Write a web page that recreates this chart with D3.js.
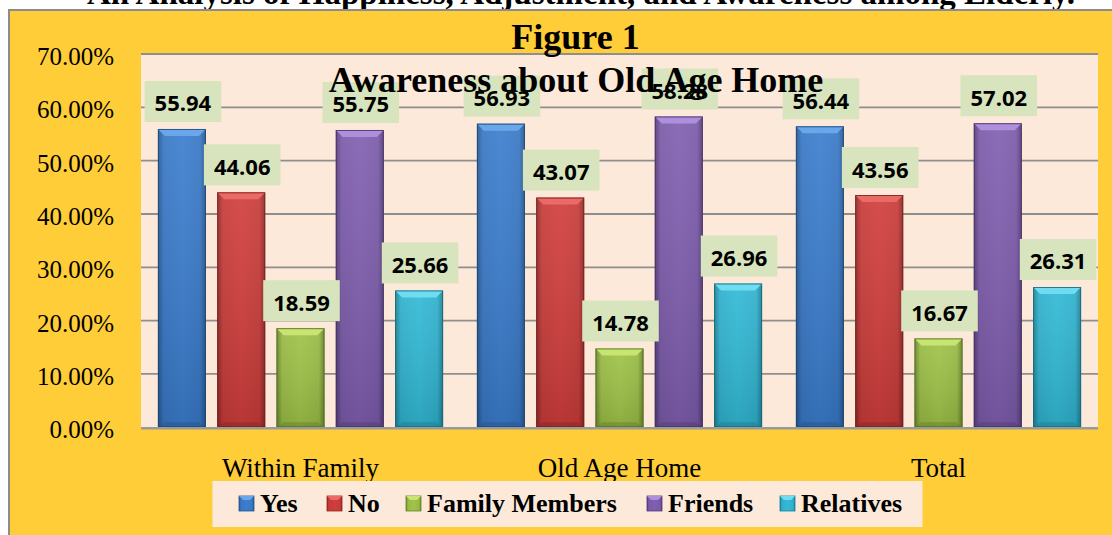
<!DOCTYPE html>
<html>
<head>
<meta charset="utf-8">
<script src="https://cdn.jsdelivr.net/npm/d3@7"></script>
<style>
body { margin: 0; background: #ffffff; }
</style>
</head>
<body>
<svg id="chart" width="1112" height="535"></svg>
<script>
var categories = ["Within Family", "Old Age Home", "Total"];
var seriesNames = ["Yes", "No", "Family Members", "Friends", "Relatives"];
var yesValues = [55.94, 56.93, 56.44];
var noValues = [44.06, 43.07, 43.56];
var familyValues = [18.59, 14.78, 16.67];
var friendsValues = [55.75, 58.28, 57.02];
var relativesValues = [25.66, 26.96, 26.31];
var yTicks = [0, 10, 20, 30, 40, 50, 60, 70];

// base, light, dark for each series
var palette = [
	["#3877c4", "#6aa6ea", "#24558f"],
	["#c63b39", "#ea6a66", "#8e2624"],
	["#97ba44", "#c8e573", "#66822a"],
	["#7a5aa8", "#ad8fdc", "#533b78"],
	["#2fb0cc", "#6fdcf2", "#1c7d93"]
];

var serif = "'Liberation Serif', 'Times New Roman', serif";
var sans = "'Open Sans', 'DejaVu Sans', sans-serif";

var plot = { left: 141, right: 1098, top: 54, bottom: 427.3 };

function buildRows() {
	var all = [yesValues, noValues, familyValues, friendsValues, relativesValues];
	var rows = [];
	categories.forEach(function(cat, ci) {
		seriesNames.forEach(function(s, si) {
			rows.push({ cat: cat, series: s, si: si, value: all[si][ci] });
		});
	});
	return rows;
}

function makeGradients(defs) {
	palette.forEach(function(p, i) {
		var g = defs.append("linearGradient")
			.attr("id", "body" + i)
			.attr("x1", 0).attr("x2", 1).attr("y1", 0).attr("y2", 0);
		g.append("stop").attr("offset", "0%").attr("stop-color", p[2]);
		g.append("stop").attr("offset", "12%").attr("stop-color", p[0]);
		g.append("stop").attr("offset", "50%").attr("stop-color", d3.color(p[0]).brighter(0.15));
		g.append("stop").attr("offset", "88%").attr("stop-color", p[0]);
		g.append("stop").attr("offset", "100%").attr("stop-color", p[2]);

		var v = defs.append("linearGradient")
			.attr("id", "shade" + i)
			.attr("x1", 0).attr("x2", 0).attr("y1", 0).attr("y2", 1);
		v.append("stop").attr("offset", "0%").attr("stop-color", "#ffffff").attr("stop-opacity", 0.08);
		v.append("stop").attr("offset", "100%").attr("stop-color", "#000000").attr("stop-opacity", 0.12);
	});
}

function drawBars(svg, x, x1, y, rows) {
	var b = 7;
	var g = svg.append("g").selectAll("g")
		.data(rows)
		.enter()
		.append("g")
		.attr("transform", function(d) { return "translate(" + (x(d.cat) + x1(d.series)) + ",0)"; });

	var w = x1.bandwidth();

	g.append("rect")
		.attr("x", 0)
		.attr("y", function(d) { return y(d.value); })
		.attr("width", w)
		.attr("height", function(d) { return y(0) - y(d.value); })
		.style("fill", function(d) { return "url(#body" + d.si + ")"; });

	g.append("rect")
		.attr("x", 0)
		.attr("y", function(d) { return y(d.value); })
		.attr("width", w)
		.attr("height", function(d) { return y(0) - y(d.value); })
		.style("fill", function(d) { return "url(#shade" + d.si + ")"; });

	// top bevel
	g.append("path")
		.attr("d", function(d) {
			var t = y(d.value);
			return "M0," + t + "L" + w + "," + t + "L" + (w - b) + "," + (t + b) + "L" + b + "," + (t + b) + "Z";
		})
		.style("fill", function(d) { return palette[d.si][1]; });

	// bottom bevel
	g.append("path")
		.attr("d", function(d) {
			var t = y(0);
			return "M0," + t + "L" + w + "," + t + "L" + (w - b) + "," + (t - 5) + "L" + b + "," + (t - 5) + "Z";
		})
		.style("fill", function(d) { return palette[d.si][2]; })
		.style("opacity", 0.5);

	g.append("rect")
		.attr("x", 0.5)
		.attr("y", function(d) { return y(d.value) + 0.5; })
		.attr("width", w - 1)
		.attr("height", function(d) { return y(0) - y(d.value) - 1; })
		.style("fill", "none")
		.style("stroke", function(d) { return d3.color(palette[d.si][2]).darker(0.6); })
		.style("stroke-width", 1)
		.style("opacity", 0.8);
}

function drawLabels(svg, x, x1, y, rows) {
	var w = x1.bandwidth();
	var g = svg.append("g").selectAll("g")
		.data(rows)
		.enter()
		.append("g");

	var boxes = g.append("rect").style("fill", "#d7e4bd");

	var texts = g.append("text")
		.attr("x", function(d) { return x(d.cat) + x1(d.series) + w / 2 + 1; })
		.attr("y", function(d) { return y(d.value) - 7 - 20.5 + 1; })
		.attr("text-anchor", "middle")
		.attr("dominant-baseline", "central")
		.style("font-family", sans)
		.style("font-weight", "bold")
		.style("font-size", "22px")
		.style("fill", "#000000")
		.text(function(d) { return d.value.toFixed(2); });

	texts.each(function(d) {
		var tw = this.getComputedTextLength() + 20;
		d3.select(this.parentNode).select("rect")
			.attr("x", x(d.cat) + x1(d.series) + w / 2 + 1 - tw / 2)
			.attr("y", y(d.value) - 7 - 41)
			.attr("width", tw)
			.attr("height", 41);
	});
}

function drawLegend(svg) {
	var lg = svg.append("g");
	lg.append("rect")
		.attr("x", 212.5).attr("y", 481)
		.attr("width", 710).attr("height", 46)
		.style("fill", "#fde9d9");

	var itemX = [239, 327, 406, 647, 780];
	seriesNames.forEach(function(name, i) {
		var it = lg.append("g").attr("transform", "translate(" + itemX[i] + ",496)");
		it.append("rect")
			.attr("width", 15).attr("height", 15)
			.style("fill", "url(#body" + i + ")")
			.style("stroke", palette[i][2])
			.style("stroke-width", 0.8);
		it.append("path")
			.attr("d", "M0,0L15,0L11,4L4,4Z")
			.style("fill", palette[i][1]);
		it.append("text")
			.attr("x", 21)
			.attr("y", 16)
			.style("font-family", serif)
			.style("font-weight", "bold")
			.style("font-size", "26px")
			.style("fill", "#000000")
			.text(name);
	});
}

function draw() {
	var svg = d3.select("#chart");
	var defs = svg.append("defs");
	makeGradients(defs);

	// page title, cut off at top
	svg.append("text")
		.attr("x", 581)
		.attr("y", 4)
		.attr("text-anchor", "middle")
		.style("font-family", serif)
		.style("font-weight", "bold")
		.style("font-size", "33px")
		.text("An Analysis of Happiness, Adjustment, and Awareness among Elderly.");

	// chart frame
	svg.append("rect")
		.attr("x", 9).attr("y", 10)
		.attr("width", 1120).attr("height", 540)
		.style("fill", "#ffcd37")
		.style("stroke", "#8c8c8c")
		.style("stroke-width", 2);

	var x = d3.scaleBand().domain(categories).range([plot.left, plot.right]).padding(0);
	var x1 = d3.scaleBand().domain(seriesNames).range([0, x.bandwidth()])
		.paddingInner(0.19).paddingOuter(0.285);
	var y = d3.scaleLinear().domain([0, 70]).range([plot.bottom, plot.top]);

	svg.append("rect")
		.attr("x", plot.left).attr("y", plot.top)
		.attr("width", plot.right - plot.left).attr("height", plot.bottom - plot.top)
		.style("fill", "#fde9d9");

	// grid
	svg.append("g").selectAll("line")
		.data(yTicks.slice(1))
		.enter()
		.append("line")
		.attr("x1", plot.left).attr("x2", plot.right)
		.attr("y1", function(d) { return y(d); })
		.attr("y2", function(d) { return y(d); })
		.style("stroke", "#8e8e8e")
		.style("stroke-width", 1.8);

	var yAxis = svg.append("g")
		.attr("transform", "translate(" + plot.left + ",0)")
		.call(d3.axisLeft(y).tickValues(yTicks).tickSize(0).tickPadding(27)
			.tickFormat(function(d) { return d3.format(".2%")(d / 100); }));
	yAxis.select(".domain").remove();
	yAxis.selectAll("text")
		.attr("dy", "0.38em")
		.attr("y", 1)
		.style("font-family", serif)
		.style("font-size", "25px")
		.style("fill", "#000000");

	var rows = buildRows();
	drawBars(svg, x, x1, y, rows);

	// bottom axis line
	svg.append("line")
		.attr("x1", plot.left).attr("x2", plot.right)
		.attr("y1", plot.bottom + 1).attr("y2", plot.bottom + 1)
		.style("stroke", "#9a9a9a")
		.style("stroke-width", 2.5);

	var xAxis = svg.append("g")
		.attr("transform", "translate(0," + plot.bottom + ")")
		.call(d3.axisBottom(x).tickSize(0).tickPadding(0));
	xAxis.select(".domain").remove();
	xAxis.selectAll("text")
		.attr("y", 50)
		.attr("dy", 0)
		.style("font-family", serif)
		.style("font-size", "27px")
		.style("fill", "#000000");

	drawLabels(svg, x, x1, y, rows);

	// chart titles, drawn on top of labels
	svg.append("text")
		.attr("x", 575.5).attr("y", 49)
		.attr("text-anchor", "middle")
		.style("font-family", serif)
		.style("font-weight", "bold")
		.style("font-size", "36px")
		.text("Figure 1");
	svg.append("text")
		.attr("x", 576).attr("y", 92)
		.attr("text-anchor", "middle")
		.style("font-family", serif)
		.style("font-weight", "bold")
		.style("font-size", "36px")
		.text("Awareness about Old Age Home");

	drawLegend(svg);
}

draw();
</script>
</body>
</html>
